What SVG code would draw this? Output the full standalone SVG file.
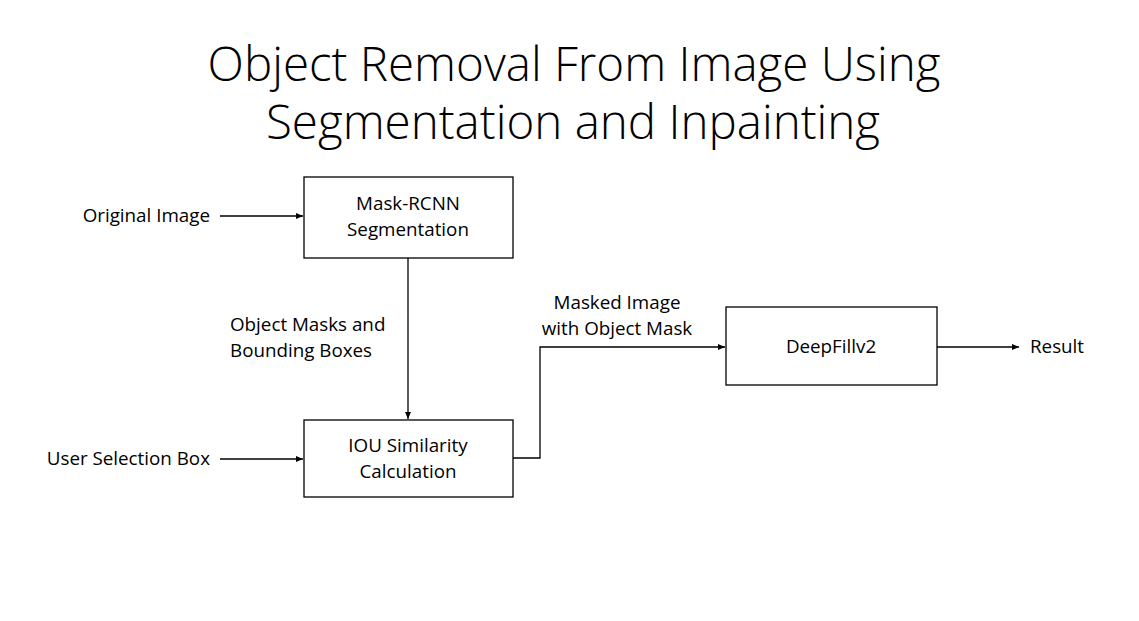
<svg xmlns="http://www.w3.org/2000/svg" width="1139" height="621" viewBox="0 0 1139 621">
<style>
.t{font-family:"Open Sans","Liberation Sans",sans-serif;font-size:18.8px;fill:#000}
.title{font-family:"Open Sans","Liberation Sans",sans-serif;font-weight:300;font-size:47.5px;fill:#000}
.box{fill:#fff;stroke:#000;stroke-width:1.3}
.c{fill:none;stroke:#000;stroke-width:1.3}
</style>
<defs>
<marker id="ah" markerWidth="8" markerHeight="8" refX="7" refY="4" orient="auto" markerUnits="userSpaceOnUse">
<path d="M0,1 L7,4 L0,7 Z" fill="#000"/>
</marker>
</defs>
<rect width="1139" height="621" fill="#fff"/>
<g id="title">
<text class="title" x="574" y="81" text-anchor="middle">Object Removal From Image Using</text>
<text class="title" x="573" y="139" text-anchor="middle">Segmentation and Inpainting</text>
</g>
<g id="connectors">
<line class="c" x1="220" y1="216" x2="303" y2="216" marker-end="url(#ah)"/>
<line class="c" x1="220" y1="459" x2="303" y2="459" marker-end="url(#ah)"/>
<line class="c" x1="408" y1="258" x2="408" y2="419" marker-end="url(#ah)"/>
<polyline class="c" points="513,458 540,458 540,347 725,347" marker-end="url(#ah)"/>
<line class="c" x1="937" y1="347" x2="1019" y2="347" marker-end="url(#ah)"/>
<text class="t" x="230" y="331">Object Masks and</text>
<text class="t" x="230" y="357">Bounding Boxes</text>
<text class="t" x="617" y="309" text-anchor="middle">Masked Image</text>
<text class="t" x="617" y="335" text-anchor="middle">with Object Mask</text>
</g>
<g id="input-original">
<text class="t" x="210" y="222" text-anchor="end">Original Image</text>
</g>
<g id="input-user">
<text class="t" x="210" y="465" text-anchor="end">User Selection Box</text>
</g>
<g id="mask-rcnn">
<rect class="box" x="304" y="177" width="209" height="81"/>
<text class="t" x="408" y="210" text-anchor="middle">Mask-RCNN</text>
<text class="t" x="408" y="236" text-anchor="middle">Segmentation</text>
</g>
<g id="iou">
<rect class="box" x="304" y="420" width="209" height="77"/>
<text class="t" x="408" y="452" text-anchor="middle">IOU Similarity</text>
<text class="t" x="408" y="478" text-anchor="middle">Calculation</text>
</g>
<g id="deepfill">
<rect class="box" x="726" y="307" width="211" height="78"/>
<text class="t" x="831" y="353" text-anchor="middle">DeepFillv2</text>
</g>
<g id="result">
<text class="t" x="1030" y="353">Result</text>
</g>
</svg>
